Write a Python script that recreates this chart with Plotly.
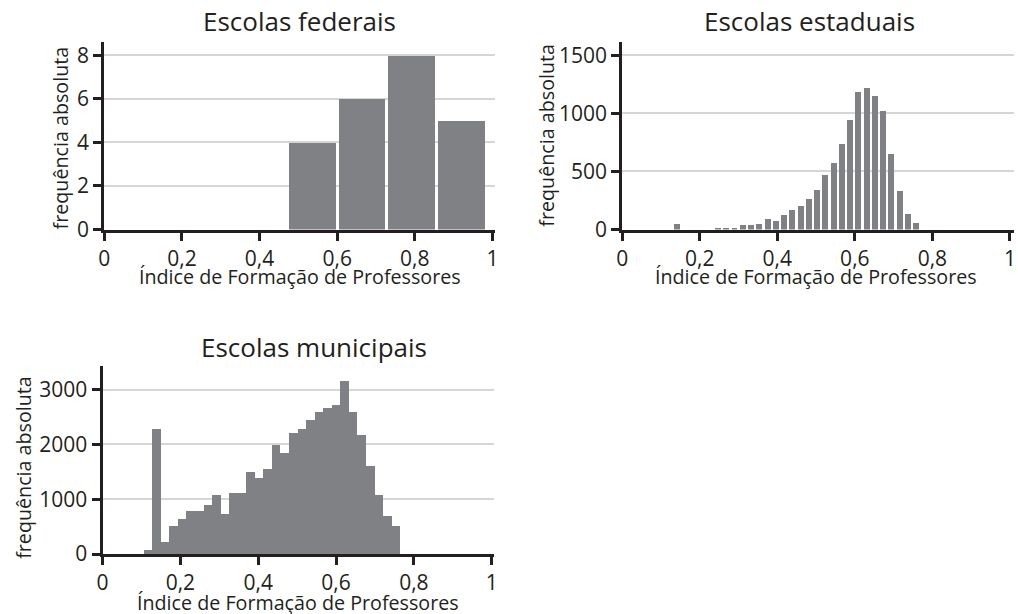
import numpy as np
import plotly.graph_objects as go

# ---------------- Data ----------------
fed_bin_start = 0.473
fed_bin_width = 0.128
fed_counts = [4, 6, 8, 5]

est_bin_start = 0.1305
est_bin_width = 0.02129
est_counts = [55, 0, 0, 0, 0, 20, 20, 20, 46, 46,
              55, 99, 81, 125, 169, 204, 265, 343, 474, 579,
              736, 945, 1190, 1225, 1155, 1024, 657, 335, 134, 64]

mun_bin_start = 0.1045
mun_bin_width = 0.02197
mun_counts = [79, 2273, 213, 518, 634, 780, 780, 890, 1073, 725,
              1109, 1109, 1493, 1383, 1548, 1987, 1840, 2206, 2279, 2444,
              2590, 2663, 2718, 3157, 2590, 2169, 1603, 1073, 689, 506]

titles = ["Escolas federais", "Escolas estaduais", "Escolas municipais"]
x_title = "Índice de Formação de Professores"
y_title = "frequência absoluta"

W, H = 1018, 628
REF_H = 614
BAR = "#808185"
INK = "#231f20"
GRID = "#d6d6d6"
FONT = "Open Sans"


def px_x(p):
    return p / W


def px_y(p):
    # positions measured on the 614px-high reference picture
    return 1 - p / REF_H


def centers(start, width, counts):
    return start + (np.arange(len(counts)) + 0.5) * width


fig = go.Figure()

panels = [
    # counts, start, width, bar fill, xaxis, yaxis, xdom(px), xmax, ydom(px), ytop, dtick
    (fed_counts, fed_bin_start, fed_bin_width, 0.94, "x", "y",
     (99.3, 493.6), 1.006, (228.5, 40.5), 8.64, 2),
    (est_counts, est_bin_start, est_bin_width, 0.72, "x2", "y2",
     (622.3, 1018), 1.0105, (228.5, 40.5), 1618, 500),
    (mun_counts, mun_bin_start, mun_bin_width, 1.0, "x3", "y3",
     (97.5, 492.9), 1.006, (553, 365), 3431, 1000),
]

title_x = [296, 811, 311]
title_y = [20, 20, 346]
xtitle_y = [275, 275, 601]
ytitle_x = [55, 545, 17]
ytitle_y = [137, 134, 466]

for i, (counts, start, width, fill, xa, ya, xdom, xmax, ydom, ytop, dt) in enumerate(panels):
    fig.add_trace(go.Bar(
        x=centers(start, width, counts),
        y=counts,
        width=width * fill,
        marker=dict(color=BAR, line=dict(width=0)),
        xaxis=xa,
        yaxis=ya,
        showlegend=False,
    ))
    suffix = "" if i == 0 else str(i + 1)
    fig.update_layout({
        "xaxis" + suffix: dict(
            domain=[px_x(xdom[0]), px_x(xdom[1])],
            anchor=ya,
            range=[0, xmax],
            dtick=0.2,
            tick0=0,
            showline=True, linewidth=3, linecolor=INK,
            ticks="outside", ticklen=8, tickwidth=3, tickcolor=INK,
            showgrid=False, zeroline=False,
            tickfont=dict(family=FONT, size=21, color=INK),
        ),
        "yaxis" + suffix: dict(
            domain=[px_y(ydom[0]), px_y(ydom[1])],
            anchor=xa,
            range=[0, ytop],
            dtick=dt,
            showline=True, linewidth=3, linecolor=INK,
            ticks="outside", ticklen=8, tickwidth=3, tickcolor=INK,
            showgrid=True, gridcolor=GRID, gridwidth=1.5,
            zeroline=False,
            tickfont=dict(family=FONT, size=21, color=INK),
        ),
    })
    xc = (xdom[0] + xdom[1]) / 2 if i != 1 else 818
    fig.add_annotation(text=titles[i], xref="paper", yref="paper",
                       x=px_x(title_x[i]), y=px_y(title_y[i]), showarrow=False,
                       xanchor="center", yanchor="middle",
                       font=dict(family=FONT, size=26, color=INK))
    fig.add_annotation(text=x_title, xref="paper", yref="paper",
                       x=px_x(xc), y=px_y(xtitle_y[i]), showarrow=False,
                       xanchor="center", yanchor="middle",
                       font=dict(family=FONT, size=19.7, color=INK))
    fig.add_annotation(text=y_title, xref="paper", yref="paper",
                       x=px_x(ytitle_x[i]), y=px_y(ytitle_y[i]), showarrow=False,
                       textangle=-90, xanchor="center", yanchor="middle",
                       font=dict(family=FONT, size=19.7, color=INK))

fig.update_layout(
    width=W,
    height=H,
    margin=dict(l=0, r=0, t=0, b=0),
    paper_bgcolor="white",
    plot_bgcolor="white",
    separators=",.",
    bargap=0,
    font=dict(family=FONT, color=INK),
)

# drop the default 8px body margin so the figure fills the page exactly
fig.write_html("out.html", config={"displayModeBar": False},
               post_script="document.body.style.margin = '0';")
